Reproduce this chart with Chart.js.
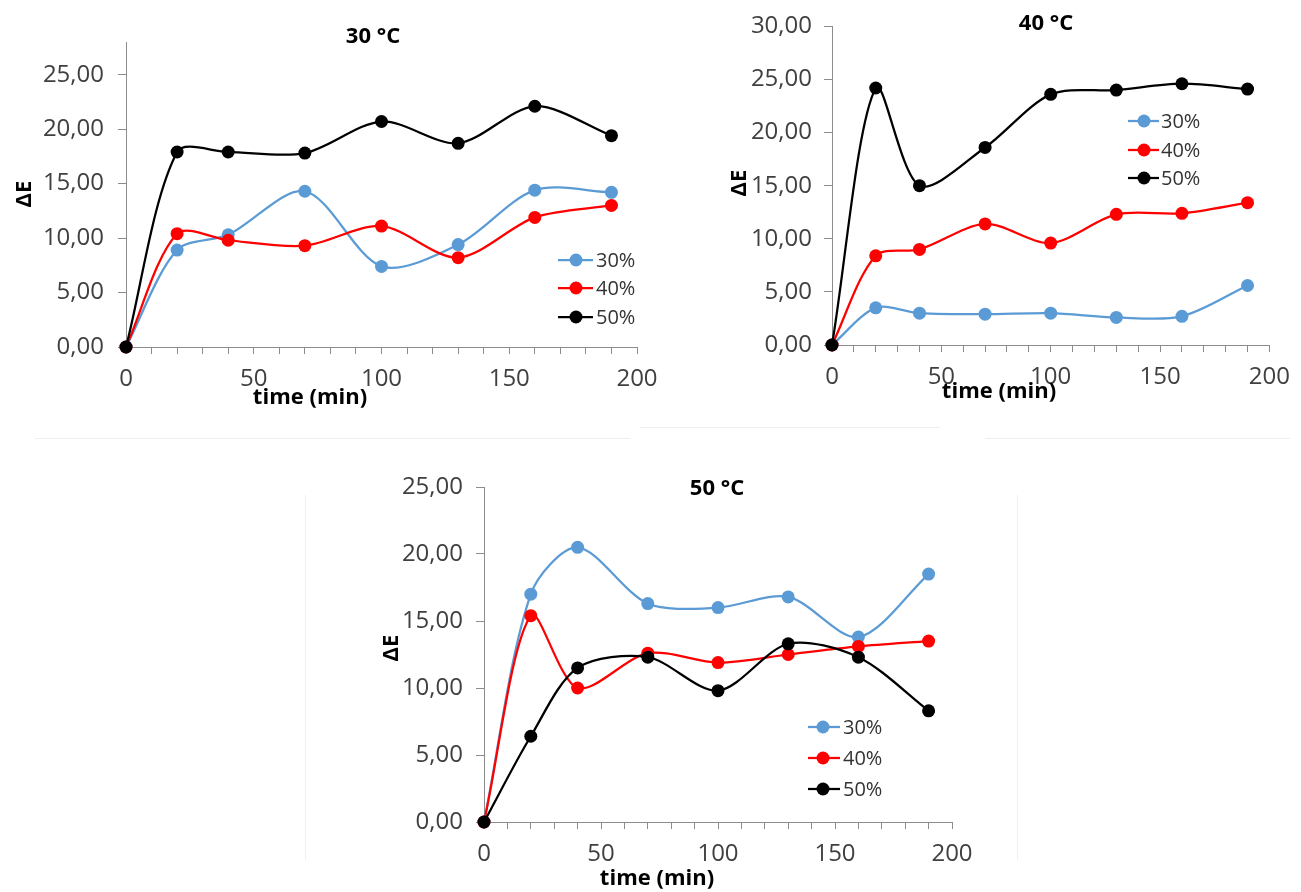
<!DOCTYPE html>
<html>
<head>
<meta charset="utf-8">
<script src="https://cdn.jsdelivr.net/npm/chart.js@4.4.1/dist/chart.umd.min.js"></script>
<style>
  body { margin: 0; background: #fff; width: 1301px; height: 892px; position: relative; overflow: hidden; }
  canvas { position: absolute; }
  .rule { position: absolute; background: #efefef; }
</style>
</head>
<body>
<!-- faint frame edges left over from the three panels -->
<div class="rule" style="left:35px;top:438px;width:595px;height:1px"></div>
<div class="rule" style="left:640px;top:427px;width:300px;height:1px"></div>
<div class="rule" style="left:985px;top:438px;width:305px;height:1px"></div>
<div class="rule" style="left:305px;top:495px;width:1px;height:365px"></div>
<div class="rule" style="left:1017px;top:495px;width:1px;height:365px"></div>

<canvas id="c30" width="700" height="420" style="left:0;top:0;width:700px;height:420px"></canvas>
<canvas id="c40" width="601" height="420" style="left:700px;top:0;width:601px;height:420px"></canvas>
<canvas id="c50" width="680" height="452" style="left:330px;top:440px;width:680px;height:452px"></canvas>

<script>
// sampling times (min)
const times = [0, 20, 40, 70, 100, 130, 160, 190];
const seriesLabels = ['30%', '40%', '50%'];
const xTickLabels = [0, 50, 100, 150, 200];

// ΔE at 30 °C
const de30C_30 = [0, 8.9, 10.3, 14.3, 7.4, 9.4, 14.4, 14.2];
const de30C_40 = [0, 10.4, 9.8, 9.3, 11.1, 8.2, 11.9, 13.0];
const de30C_50 = [0, 17.9, 17.9, 17.8, 20.7, 18.7, 22.1, 19.4];

// ΔE at 40 °C
const de40C_30 = [0, 3.5, 3.0, 2.9, 3.0, 2.6, 2.7, 5.6];
const de40C_40 = [0, 8.4, 9.0, 11.4, 9.6, 12.3, 12.4, 13.4];
const de40C_50 = [0, 24.2, 15.0, 18.6, 23.6, 24.0, 24.6, 24.1];

// ΔE at 50 °C
const de50C_30 = [0, 17.0, 20.5, 16.3, 16.0, 16.8, 13.8, 18.5];
const de50C_40 = [0, 15.4, 10.0, 12.6, 11.9, 12.5, 13.1, 13.5];
const de50C_50 = [0, 6.4, 11.5, 12.3, 9.8, 13.3, 12.3, 8.3];

const yTicks30 = [0, 5, 10, 15, 20, 25];
const yTicks40 = [0, 5, 10, 15, 20, 25, 30];
const yTicks50 = [0, 5, 10, 15, 20, 25];

const colors = ['#5b9bd5', '#ff0000', '#000000'];
const FONT = '"Open Sans", "Liberation Sans", sans-serif';
const axisColor = '#8c8c8c';

const fmtY = v => Number(v).toFixed(2).replace('.', ',');

// titles, axis titles and the line+marker legend
const panelText = {
  id: 'panelText',
  afterDraw(chart, args, opts) {
    const ctx = chart.ctx;
    ctx.save();
    ctx.fillStyle = '#000';
    ctx.textAlign = 'center';
    ctx.textBaseline = 'middle';
    ctx.font = 'bold 22px ' + FONT;
    ctx.fillText(opts.title.text, opts.title.x, opts.title.y);
    ctx.fillText('time (min)', opts.xTitle.x, opts.xTitle.y);
    ctx.save();
    ctx.translate(opts.yTitle.x, opts.yTitle.y);
    ctx.rotate(-Math.PI / 2);
    ctx.fillText('ΔE', 0, 0);
    ctx.restore();

    const lg = opts.legend;
    ctx.font = '20px ' + FONT;
    ctx.textAlign = 'left';
    chart.data.datasets.forEach((ds, i) => {
      const y = lg.rows[i];
      ctx.strokeStyle = ds.borderColor;
      ctx.lineWidth = 2.25;
      ctx.beginPath();
      ctx.moveTo(lg.x0, y);
      ctx.lineTo(lg.x1, y);
      ctx.stroke();
      ctx.fillStyle = ds.borderColor;
      ctx.beginPath();
      ctx.arc(lg.cx, y, 6.5, 0, Math.PI * 2);
      ctx.fill();
      ctx.fillStyle = '#333';
      ctx.fillText(ds.label, lg.tx, y + 1);
    });
    ctx.restore();
  }
};

function makePanel(id, series, yTicks, yMax, box, text) {
  return new Chart(document.getElementById(id), {
    type: 'line',
    data: {
      datasets: series.map((vals, i) => ({
        label: seriesLabels[i],
        data: times.map((t, k) => ({ x: t, y: vals[k] })),
        borderColor: colors[i],
        backgroundColor: colors[i],
        borderWidth: 2.25,
        pointRadius: 6.5,
        pointHoverRadius: 6.5,
        pointBorderWidth: 0,
        tension: 0.3,
        clip: false,
        order: 2 - i
      }))
    },
    options: {
      responsive: false,
      animation: false,
      events: [],
      layout: { autoPadding: false, padding: { left: 0, top: box.top, right: box.right, bottom: 0 } },
      plugins: { legend: { display: false }, tooltip: { enabled: false }, panelText: text },
      scales: {
        x: {
          type: 'linear',
          min: 0,
          max: 200,
          ticks: {
            stepSize: 10,
            autoSkip: false,
            maxRotation: 0,
            padding: 11,
            color: '#404040',
            font: { family: FONT, size: 24 },
            callback: v => (xTickLabels.includes(v) ? String(v) : '')
          },
          grid: { drawOnChartArea: false, drawTicks: true, tickLength: 7, color: axisColor },
          border: { color: axisColor, width: 1 },
          afterFit: s => { s.height = box.xh; }
        },
        y: {
          type: 'linear',
          min: 0,
          max: yMax,
          afterBuildTicks: s => { s.ticks = yTicks.map(v => ({ value: v })); },
          ticks: {
            padding: box.ypad,
            color: '#404040',
            font: { family: FONT, size: 24 },
            callback: fmtY
          },
          grid: { drawOnChartArea: false, drawTicks: true, tickLength: 8, color: axisColor },
          border: { color: axisColor, width: 1 },
          afterFit: s => { s.width = box.yw; }
        }
      }
    },
    plugins: [panelText]
  });
}

Promise.all([
  document.fonts.load('24px "Open Sans"'),
  document.fonts.load('bold 22px "Open Sans"')
]).catch(() => {}).then(() => {
  makePanel('c30', [de30C_30, de30C_40, de30C_50], yTicks30, 28,
    { top: 42, right: 63, yw: 126, xh: 73, ypad: 14 },
    {
      title: { text: '30 °C', x: 373, y: 37 },
      yTitle: { x: 25, y: 194 },
      xTitle: { x: 310, y: 398 },
      legend: { x0: 558, x1: 593, cx: 576, tx: 596, rows: [260, 288, 317] }
    });

  makePanel('c40', [de40C_30, de40C_40, de40C_50], yTicks40, 30,
    { top: 23, right: 20, yw: 132, xh: 75, ypad: 12 },
    {
      title: { text: '40 °C', x: 346, y: 24 },
      yTitle: { x: 40, y: 183 },
      xTitle: { x: 299, y: 392 },
      legend: { x0: 428, x1: 459, cx: 444, tx: 461, rows: [121, 150, 178] }
    });

  makePanel('c50', [de50C_30, de50C_40, de50C_50], yTicks50, 25,
    { top: 47, right: 58, yw: 154, xh: 70, ypad: 13 },
    {
      title: { text: '50 °C', x: 387, y: 49 },
      yTitle: { x: 62, y: 208 },
      xTitle: { x: 327, y: 439 },
      legend: { x0: 478, x1: 510, cx: 493, tx: 513, rows: [287, 318, 349] }
    });
});
</script>
</body>
</html>
